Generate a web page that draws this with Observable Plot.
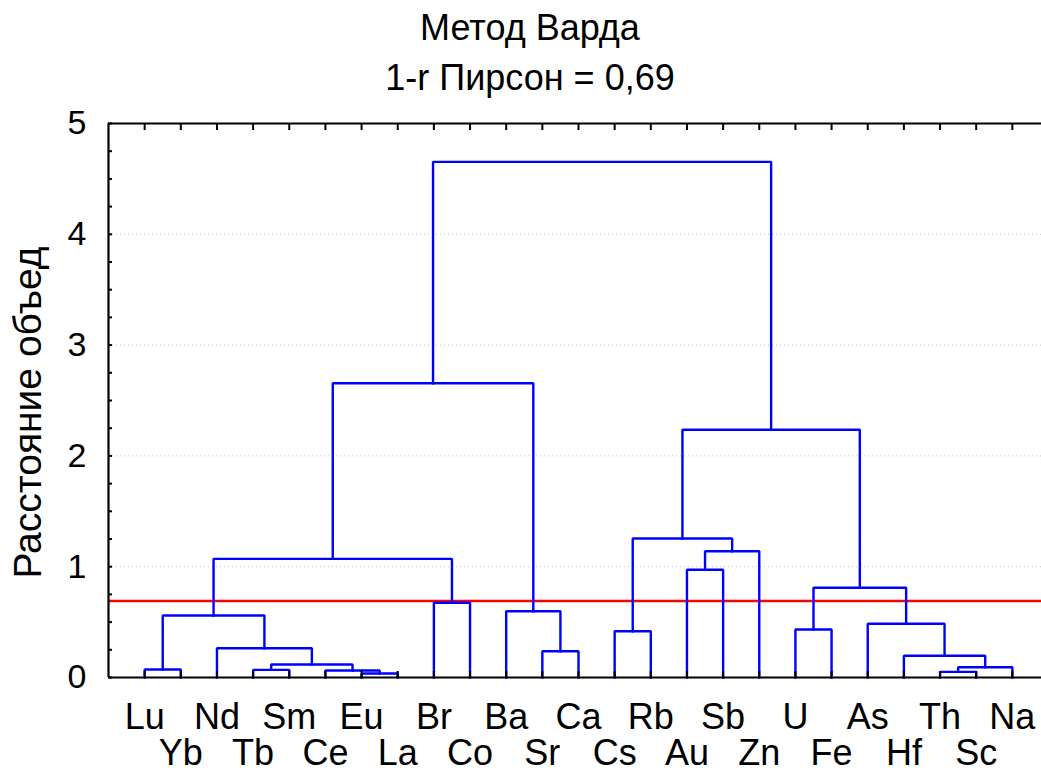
<!DOCTYPE html>
<html><head><meta charset="utf-8">
<script src="https://cdn.jsdelivr.net/npm/d3@7"></script>
<script src="https://cdn.jsdelivr.net/npm/@observablehq/plot@0.6"></script>
<style>
body{margin:0;background:#fff;font-family:"Liberation Sans",Arial,sans-serif;overflow:hidden;}
#title{width:1041px;height:90px;text-align:center;font-size:36px;line-height:50px;padding-top:3px;padding-left:19px;box-sizing:border-box;color:#000;overflow:visible;}
#title div{white-space:nowrap}
#chart svg{display:block;overflow:hidden}
</style></head><body>
<div id="title"><div id="t1"></div><div id="t2"></div></div>
<div id="chart"></div>
<script>
const title = "Метод Варда";
const subtitle = "1-r Пирсон = 0,69";
const yLabel = "Расстояние объед";
const leaves = ["Lu","Yb","Nd","Tb","Sm","Ce","Eu","La","Br","Co","Ba","Sr","Ca","Cs","Rb","Au","Sb","Zn","U","Fe","As","Hf","Th","Sc","Na"];
// linkage: node ids 0..24 are leaves, merge k creates node 25+k
const mergeLeft   = [6, 22, 5, 3, 0, 26, 28, 21, 11, 2, 13, 18, 20, 29, 10, 8, 36, 15, 38, 42, 35, 45, 43, 47];
const mergeRight  = [7, 23, 25, 4, 1, 24, 27, 30, 12, 31, 14, 19, 32, 34, 33, 9, 37, 16, 40, 17, 44, 41, 39, 46];
const mergeHeight = [0.036, 0.051, 0.063, 0.069, 0.072, 0.093, 0.117, 0.196, 0.237, 0.264, 0.418, 0.433, 0.485, 0.560, 0.598, 0.674, 0.810, 0.972, 1.071, 1.140, 1.254, 2.236, 2.656, 4.654];
const cutLevel = 0.69;
const yMajor = [0, 1, 2, 3, 4, 5];
const yMinor = d3.range(0, 5.001, 0.25);

document.getElementById("t1").textContent = title;
document.getElementById("t2").textContent = subtitle;

const leafPos = leaves.map((d, i) => i + 1);
const nodeX = leafPos.slice();
const nodeH = leaves.map(() => 0);
const paths = [];
mergeLeft.forEach((a, k) => {
  const b = mergeRight[k], h = mergeHeight[k];
  paths.push({id: k, px: nodeX[a], py: nodeH[a]}, {id: k, px: nodeX[a], py: h},
             {id: k, px: nodeX[b], py: h}, {id: k, px: nodeX[b], py: nodeH[b]});
  nodeX.push((nodeX[a] + nodeX[b]) / 2);
  nodeH.push(h);
});

const font = "Liberation Sans, Arial, sans-serif";
const chart = Plot.plot({
  width: 1041, height: 681,
  marginTop: 33, marginBottom: 94, marginLeft: 108, marginRight: 0,
  style: {fontFamily: font, fontSize: "34px", color: "#000", background: "#fff", overflow: "hidden"},
  x: {domain: [0, 26], range: [108, 1048], label: null},
  y: {domain: [0, 5], label: null},
  marks: [
    Plot.gridY(yMajor.slice(1, 5), {stroke: "#c4c4c4", strokeOpacity: 1, strokeDasharray: "1,3"}),
    Plot.ruleY([cutLevel], {stroke: "#ff0000", strokeWidth: 2.6}),
    Plot.line(paths, {x: "px", y: "py", z: "id", stroke: "#0000ff", strokeWidth: 2.4, strokeLinejoin: "miter", strokeLinecap: "square"}),
    Plot.axisY(yMinor, {tickSize: -4, text: null, strokeWidth: 2, label: null}),
    Plot.axisY(yMajor, {tickSize: 0, tickPadding: 22, fontSize: 34, tickFormat: d => String(d), label: null}),
    Plot.axisX(leafPos, {anchor: "top", tickSize: -6, text: null, strokeWidth: 2, label: null}),
    Plot.axisX(leafPos, {anchor: "bottom", tickSize: -6, text: null, strokeWidth: 2, label: null}),
    Plot.ruleX([0], {strokeWidth: 2.2}),
    Plot.ruleY([0, 5], {strokeWidth: 2.2}),
    Plot.text(leaves, {filter: (d, i) => i % 2 === 0, x: (d, i) => i + 1, text: d => d, frameAnchor: "bottom", dy: 51, lineAnchor: "bottom", fontSize: 36}),
    Plot.text(leaves, {filter: (d, i) => i % 2 === 1, x: (d, i) => i + 1, text: d => d, frameAnchor: "bottom", dy: 87, lineAnchor: "bottom", fontSize: 36}),
    Plot.text([yLabel], {text: d => d, frameAnchor: "left", textAnchor: "middle", lineAnchor: "middle", dx: -80, dy: 12, rotate: -90, fontSize: 39})
  ]
});
document.getElementById("chart").appendChild(chart);
</script>
</body></html>
